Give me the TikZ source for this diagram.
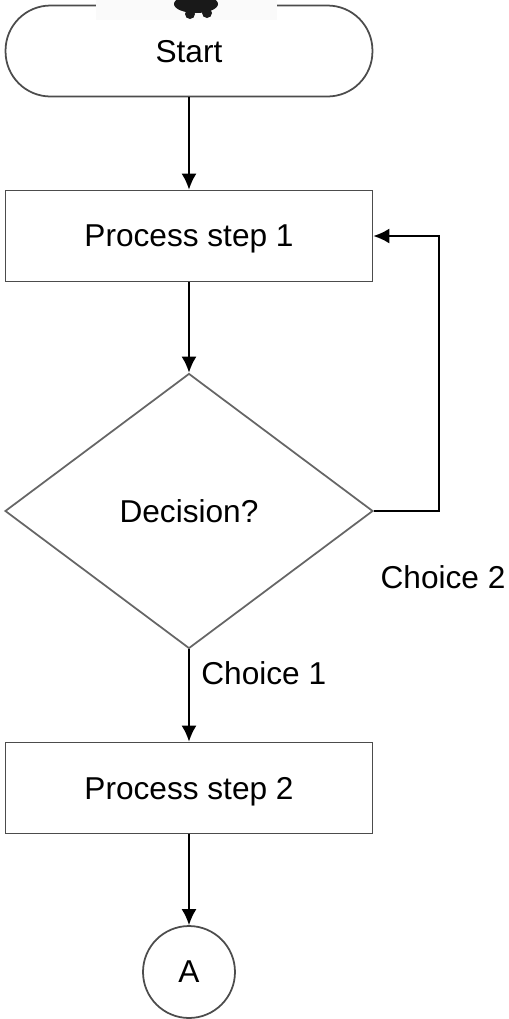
\documentclass[tikz,border=0pt]{standalone}
\usepackage{fontspec}
\setmainfont{Liberation Sans}
\usetikzlibrary{arrows.meta,shapes.geometric}

\tikzset{
	box/.style={draw=black!70, line width=1pt, minimum width=7.34cm, minimum height=1.82cm, inner sep=0pt, text depth=0pt, font=\fontsize{18}{20}\selectfont},
	link/.style={draw=black, line width=1.1pt, -{Latex[length=0.32cm,width=0.3cm]}},
	lbl/.style={inner sep=0pt, font=\fontsize{18}{20}\selectfont}
}

\begin{document}
\begin{tikzpicture}[x=0.02cm, y=-0.02cm]
		%%%%% START %%%%%
		
		\useasboundingbox (0, 0) rectangle (509, 1019);
		
		\node[box, rounded corners=0.9cm] (start) at (189, 51) {Start};
		\node[box] (step1) at (189, 236) {Process step 1};
		\node[box, diamond, draw=black!60, minimum width=7.36cm, minimum height=5.5cm] (dec) at (189, 511) {Decision?};
		\node[box] (step2) at (189, 788) {Process step 2};
		\node[box, circle, minimum width=0pt, minimum size=1.84cm] (conn) at (189, 972) {A};
		
		\draw[link] (start) -- (step1);
		\draw[link] (step1) -- (dec);
		\draw[link] (dec) -- (step2);
		\draw[link] (step2) -- (conn);
		\draw[link] (dec.east) -- ++(65, 0) |- (step1.east);
		
		\node[lbl, anchor=west] (c1) at (201, 673) {Choice 1};
		\node[lbl] (c2) at (443, 577) {Choice 2};
		
		% pasted patch over the top edge
		\fill[black!2] (96, -1) rectangle (277, 20);
		\fill[black!90] (196, 4) ellipse (22 and 9);
		\fill[black!90] (190, 14) circle (5);
		\fill[black!90] (207, 13) circle (5);
		
		%%%%% END %%%%%
	\end{tikzpicture}
\end{document}
